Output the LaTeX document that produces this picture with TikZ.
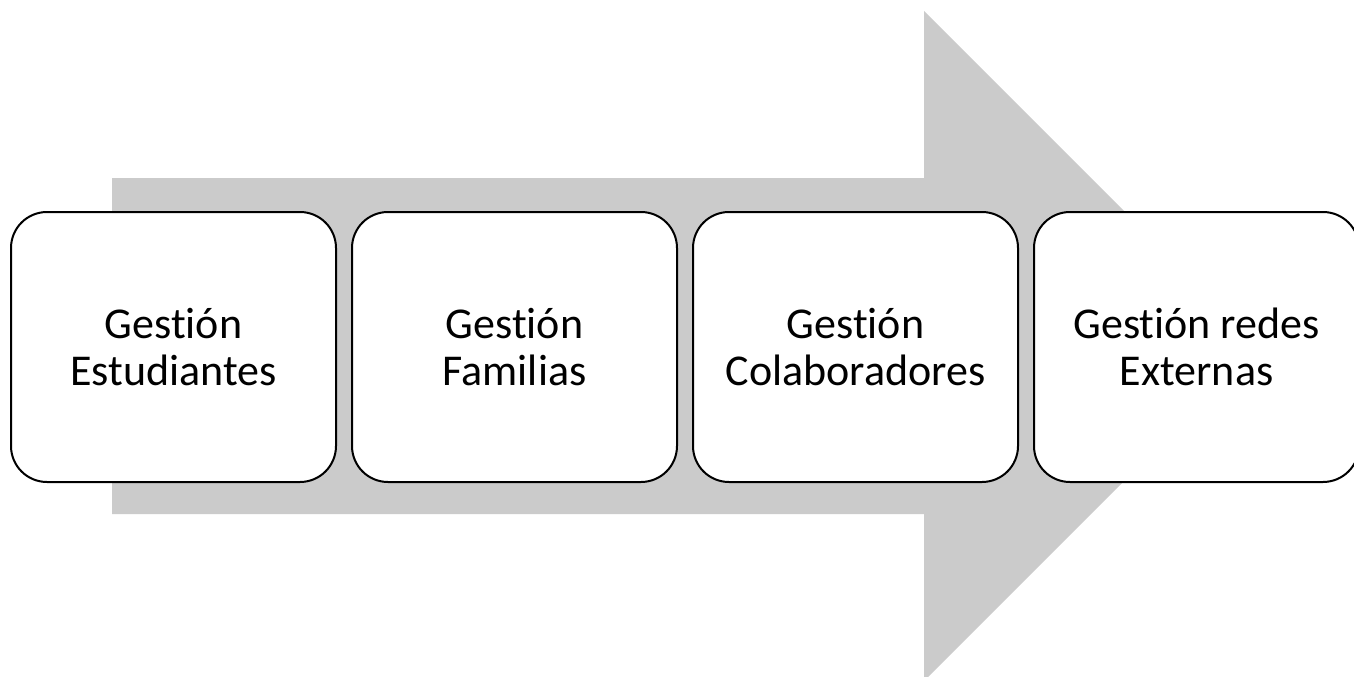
\documentclass[tikz,border=0pt]{standalone}
\usepackage{fontspec}
\setmainfont{Carlito}[RawFeature=-liga]
\definecolor{arrowgray}{RGB}{203,203,203}
\begin{document}
\begin{tikzpicture}[x=1pt,y=-1pt,
  stagebox/.style={draw=black, line width=2pt, fill=white, rounded corners=36pt,
    minimum width=325pt, minimum height=270pt, inner sep=0pt, align=center,
    font=\fontsize{44}{47}\selectfont}]
\useasboundingbox (0,0) rectangle (1354,677);
\fill[arrowgray] (112,178) -- (924,178) -- (924,11) -- (1259,346) -- (924,681) -- (924,514) -- (112,514) -- cycle;
\node[stagebox] (b1) at (173.5,347) {Gestión\\Estudiantes};
\node[stagebox] (b2) at (514.5,347) {Gestión\\Familias};
\node[stagebox] (b3) at (855.5,347) {Gestión\\Colaboradores};
\node[stagebox] (b4) at (1196.5,347) {Gestión redes\\Externas};
\end{tikzpicture}
\end{document}
